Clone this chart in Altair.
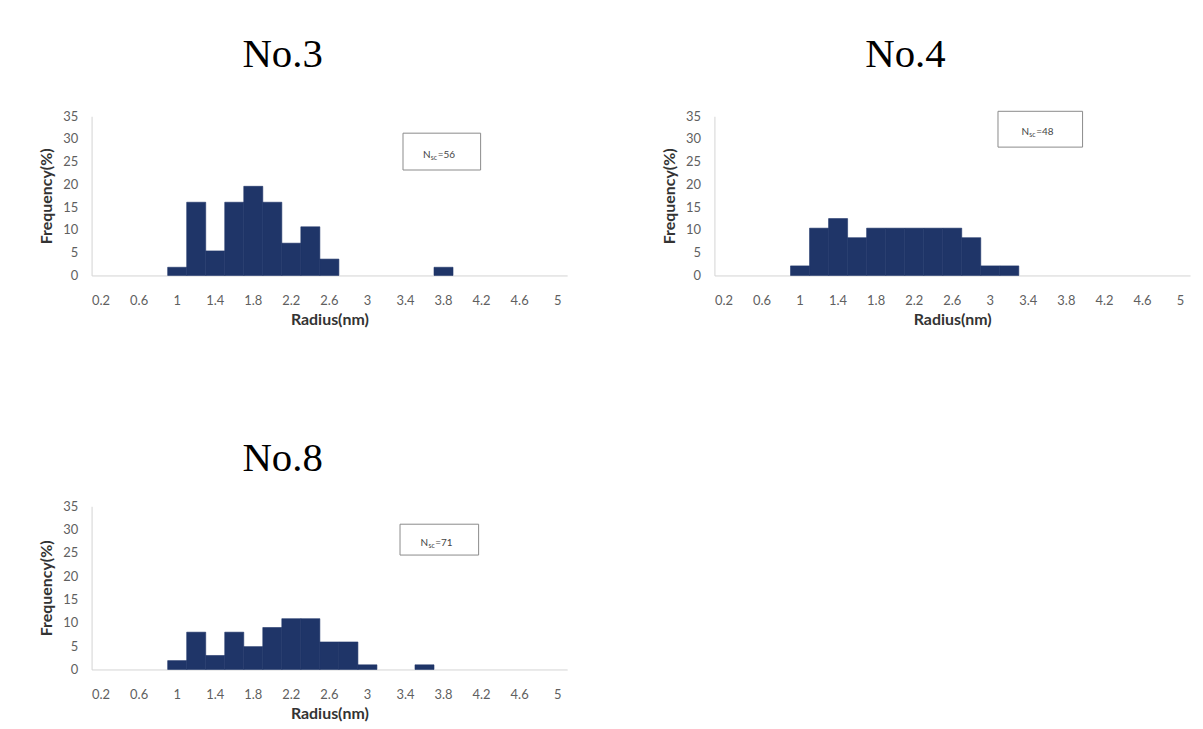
import altair as alt
import pandas as pd

# Category centres of the histogram bins (nm)
radius = ["0.2", "0.4", "0.6", "0.8", "1", "1.2", "1.4", "1.6", "1.8", "2", "2.2", "2.4",
          "2.6", "2.8", "3", "3.2", "3.4", "3.6", "3.8", "4", "4.2", "4.4", "4.6", "4.8", "5"]
label_values = ["0.2", "0.6", "1", "1.4", "1.8", "2.2", "2.6", "3", "3.4", "3.8", "4.2", "4.6", "5"]
y_ticks = [0, 5, 10, 15, 20, 25, 30, 35]

# Frequencies (%)
freq_no3 = [0, 0, 0, 0, 1.8, 16.1, 5.4, 16.1, 19.6, 16.1, 7.1, 10.7,
            3.6, 0, 0, 0, 0, 0, 1.8, 0, 0, 0, 0, 0, 0]
freq_no4 = [0, 0, 0, 0, 2.1, 10.4, 12.5, 8.3, 10.4, 10.4, 10.4, 10.4,
            10.4, 8.3, 2.1, 2.1, 0, 0, 0, 0, 0, 0, 0, 0, 0]
freq_no8 = [0, 0, 0, 0, 1.9, 8.0, 3.0, 8.0, 4.9, 9.0, 10.9, 10.9,
            5.9, 5.9, 1.0, 0, 0, 1.0, 0, 0, 0, 0, 0, 0, 0]

titles = ["No.3", "No.4", "No.8"]
n_sc = ["56", "48", "71"]

BAR = "#1f3568"
LABEL_FONT = "Lato"
TEXT_GRAY = "#5f5f5f"


def panel(title, freqs, n, width, height, box, title_dy):
    df = pd.DataFrame({"radius": radius, "freq": freqs})
    bars = alt.Chart(df).transform_filter("datum.freq > 0").mark_bar(
        color=BAR, stroke=BAR, strokeWidth=0.6
    ).encode(
        x=alt.X("radius:O", sort=radius,
                scale=alt.Scale(domain=radius, paddingInner=0, paddingOuter=0),
                axis=alt.Axis(values=label_values, title="Radius(nm)", labelAngle=0,
                              ticks=False, domainColor="#d4d4d4", labelPadding=19,
                              labelFontSize=13, labelColor=TEXT_GRAY, labelFont=LABEL_FONT,
                              titleFont=LABEL_FONT, titleFontSize=16, titleFontWeight="bold",
                              titleColor="#333333", titlePadding=4)),
        y=alt.Y("freq:Q", scale=alt.Scale(domain=[0, 35], nice=False),
                axis=alt.Axis(values=y_ticks, title="Frequency(%)", grid=False, ticks=False,
                              domainColor="#d4d4d4", labelPadding=14, labelFontSize=13,
                              labelColor=TEXT_GRAY, labelFont=LABEL_FONT,
                              titleFont=LABEL_FONT, titleFontSize=16, titleFontWeight="bold",
                              titleColor="#333333", titlePadding=8)),
    )
    bx0, bx1, by0, by1 = box
    ann = pd.DataFrame({"n": [n]})
    rect = alt.Chart(ann).mark_rect(fill="white", stroke="#8a8a8a", strokeWidth=1).encode(
        x=alt.value(bx0), x2=alt.value(bx1), y=alt.value(by0), y2=alt.value(by1))
    cx = (bx0 + bx1) / 2 - 19
    cy = (by0 + by1) / 2 + 3
    t_n = alt.Chart(ann).mark_text(align="left", fontSize=10, font=LABEL_FONT,
                                   color="#444444").encode(
        x=alt.value(cx), y=alt.value(cy), text=alt.value("N"))
    t_sub = alt.Chart(ann).mark_text(align="left", fontSize=7, font=LABEL_FONT,
                                     color="#444444").encode(
        x=alt.value(cx + 8), y=alt.value(cy + 3), text=alt.value("sc"))
    t_eq = alt.Chart(ann).mark_text(align="left", fontSize=10, font=LABEL_FONT,
                                    color="#444444").encode(
        x=alt.value(cx + 15), y=alt.value(cy), text=alt.value("=" + n))
    return alt.layer(bars, rect, t_n, t_sub, t_eq).properties(
        width=width, height=height,
        title=alt.TitleParams(title, font="Liberation Serif", fontSize=41,
                              fontWeight="normal", color="black", anchor="middle",
                              frame="group", dx=-47, dy=title_dy, baseline="alphabetic",
                              offset=3),
    )


p3 = panel(titles[0], freq_no3, n_sc[0], 478, 160, (313, 391, 17, 54), 0)
p4 = panel(titles[1], freq_no4, n_sc[1], 478, 160, (285, 370, -5, 31), 0)
p8 = panel(titles[2], freq_no8, n_sc[2], 478, 164, (310, 389, 18, 49), 15)

chart = alt.vconcat(
    alt.hconcat(p3, p4, spacing=94),
    p8,
    spacing=112,
).properties(
    padding={"left": 30, "top": 24, "right": 5, "bottom": 5}
).configure_view(stroke=None)

chart.save("out.html", embed_options={"renderer": "svg", "actions": False})
